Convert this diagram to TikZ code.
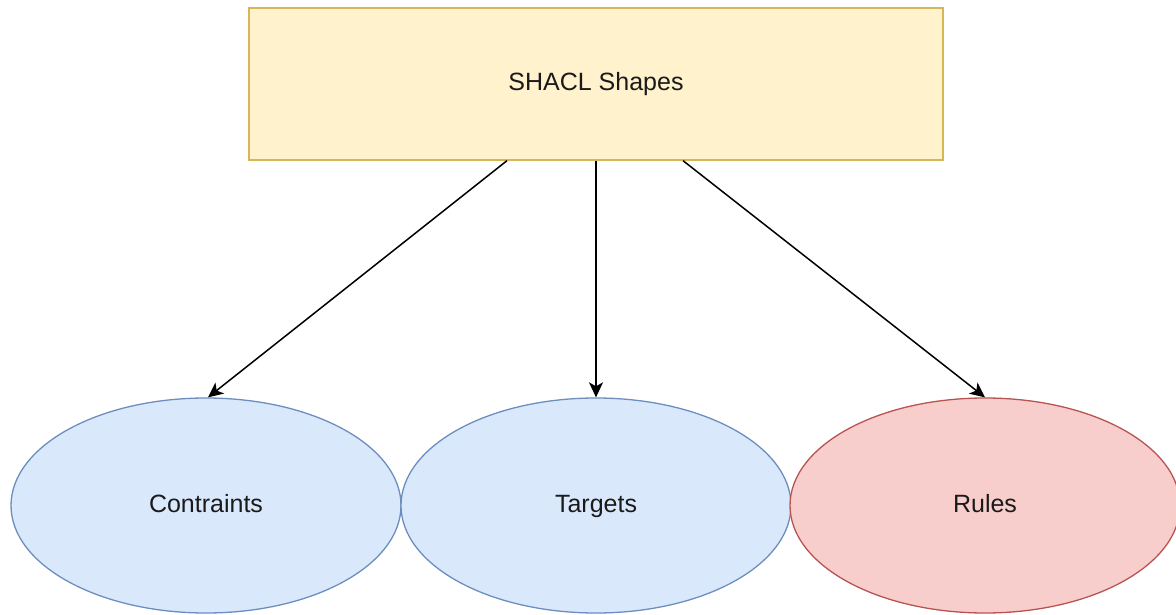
\documentclass[tikz,border=0pt]{standalone}
\usepackage{fontspec}
\setmainfont{Liberation Sans}
\usetikzlibrary{shapes.geometric,arrows.meta,calc}
\definecolor{yfill}{HTML}{FFF2CC}
\definecolor{ydraw}{HTML}{D6B656}
\definecolor{bfill}{HTML}{DAE8FC}
\definecolor{bdraw}{HTML}{6C8EBF}
\definecolor{rfill}{HTML}{F8CECC}
\definecolor{rdraw}{HTML}{B85450}
\definecolor{txt}{HTML}{1A1A1A}
\tikzset{
  label font/.style={font=\fontsize{25}{30}\selectfont, text=txt,
    text height=18pt, text depth=5pt},
  box/.style={rectangle, draw=ydraw, fill=yfill, line width=1.3pt,
    minimum width=694pt, minimum height=152pt, inner sep=0pt, label font},
  blueell/.style={ellipse, draw=bdraw, fill=bfill, line width=1.3pt,
    minimum width=390pt, minimum height=215pt, inner sep=0pt, label font},
  redell/.style={blueell, draw=rdraw, fill=rfill},
  link/.style={-{Stealth[length=15pt,width=14pt,inset=4pt]}, line width=1.5pt, black}
}
\begin{document}
\begin{tikzpicture}[x=1pt,y=-1pt]
  \useasboundingbox (0,0) rectangle (1176,615);
  \node[box] (shapes) at (596,84) {SHACL Shapes};
  \node[blueell] (contr) at (206,505.5) {Contraints};
  \node[blueell] (targ) at (596,505.5) {Targets};
  \node[redell] (rules) at (985,505.5) {Rules};
  \draw[link] ([xshift=-89pt]shapes.south) -- ([xshift=2pt]contr.north);
  \draw[link] (shapes.south) -- (targ.north);
  \draw[link] ([xshift=87pt]shapes.south) -- (rules.north);
\end{tikzpicture}
\end{document}
